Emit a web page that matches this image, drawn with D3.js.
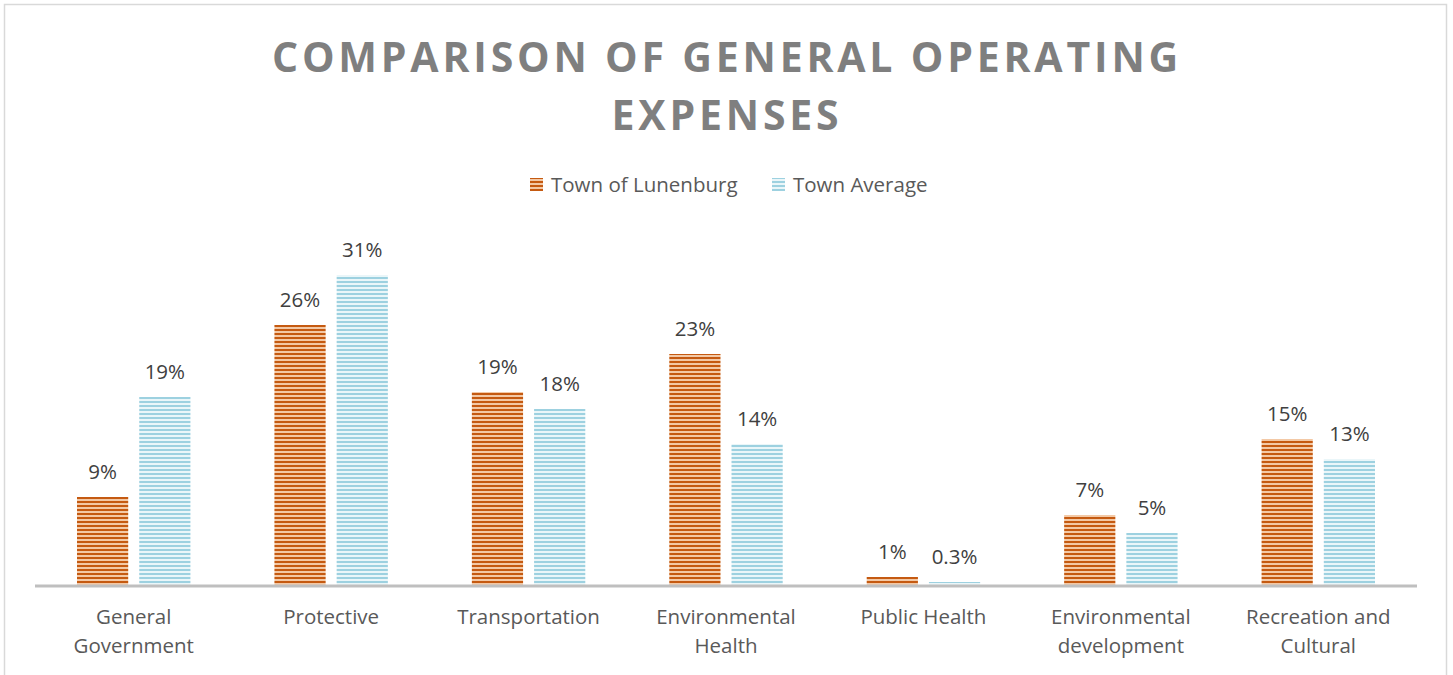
<!DOCTYPE html>
<html>
<head>
<meta charset="utf-8">
<script src="https://cdn.jsdelivr.net/npm/d3@7"></script>
<style>
  body { margin: 0; background: #fff; }
  svg { display: block; font-family: "Open Sans", sans-serif; }
</style>
</head>
<body>
<svg id="chart" width="1453" height="675"></svg>
<script>
// data
const categories = [
  ["General", "Government"],
  ["Protective"],
  ["Transportation"],
  ["Environmental", "Health"],
  ["Public Health"],
  ["Environmental", "development"],
  ["Recreation and", "Cultural"]
];
const seriesNames = ["Town of Lunenburg", "Town Average"];
const lunenburg = [8.8, 26.0, 19.3, 23.1, 0.8, 7.0, 14.6];
const townAverage = [18.8, 31.0, 17.6, 14.1, 0.3, 5.2, 12.6];
const titleLines = ["COMPARISON OF GENERAL OPERATING", "EXPENSES"];

const svg = d3.select("#chart");

// stripe patterns
const defs = svg.append("defs");
const stripes = [
  { id: "stripeOrange", dark: "#C55A11", light: "#F3C9A6" },
  { id: "stripeBlue", dark: "#9DD1E0", light: "#EAF6F9" }
];
stripes.forEach(s => {
  const p = defs.append("pattern")
    .attr("id", s.id)
    .attr("patternUnits", "userSpaceOnUse")
    .attr("width", 8).attr("height", 4);
  p.append("rect").attr("width", 8).attr("height", 4).attr("fill", s.light);
  p.append("rect").attr("y", 1).attr("width", 8).attr("height", 2).attr("fill", s.dark);
});
const fills = ["url(#stripeOrange)", "url(#stripeBlue)"];

// outer frame
svg.append("rect")
  .attr("x", 4.5).attr("y", 4.5)
  .attr("width", 1442).attr("height", 690)
  .attr("fill", "none")
  .attr("stroke", "#D9D9D9")
  .attr("stroke-width", 1.5);

// title
svg.append("text")
  .attr("text-anchor", "middle")
  .attr("font-size", 41)
  .attr("font-weight", 700)
  .attr("letter-spacing", 3.8)
  .attr("fill", "#7F7F7F")
  .selectAll("tspan")
  .data(titleLines).enter().append("tspan")
  .attr("x", 727)
  .attr("y", (d, i) => 72 + i * 58)
  .text(d => d);

// scales
const x0 = d3.scaleBand().domain(d3.range(categories.length)).range([35, 1417]);
const x1 = d3.scaleBand().domain(seriesNames)
  .range([42, x0.bandwidth() - 42]).paddingInner(0.177);
const y = d3.scaleLinear().domain([0, 35]).range([585, 235]);

const fmt = v => (v < 0.5 ? v.toFixed(1) : Math.round(v)) + "%";

// bars
const data = [lunenburg, townAverage];
const groups = svg.selectAll("g.cat")
  .data(categories).enter().append("g")
  .attr("class", "cat")
  .attr("transform", (d, i) => "translate(" + x0(i) + ",0)");

groups.each(function (c, i) {
  const g = d3.select(this);
  seriesNames.forEach((s, k) => {
    const v = data[k][i];
    g.append("rect")
      .attr("x", x1(s))
      .attr("y", y(v))
      .attr("width", x1.bandwidth())
      .attr("height", y(0) - y(v))
      .attr("fill", fills[k]);
    g.append("text")
      .attr("x", x1(s) + x1.bandwidth() / 2)
      .attr("y", y(v) - 18)
      .attr("text-anchor", "middle")
      .attr("font-size", 20.5)
      .attr("fill", "#404040")
      .text(fmt(v));
  });
});

// axis line
svg.append("line")
  .attr("x1", 35).attr("x2", 1417)
  .attr("y1", y(0) + 1).attr("y2", y(0) + 1)
  .attr("stroke", "#BFBFBF")
  .attr("stroke-width", 3);

// category labels
svg.selectAll("text.cat")
  .data(categories).enter().append("text")
  .attr("class", "cat")
  .attr("text-anchor", "middle")
  .attr("font-size", 20.5)
  .attr("fill", "#595959")
  .each(function (lines, i) {
    d3.select(this).selectAll("tspan")
      .data(lines).enter().append("tspan")
      .attr("x", x0(i) + x0.bandwidth() / 2)
      .attr("y", (d, j) => 624 + j * 29)
      .text(d => d);
  });

// legend
const legend = svg.append("g");
const legendX = [530, 772];
seriesNames.forEach((s, k) => {
  legend.append("rect")
    .attr("x", legendX[k]).attr("y", 178)
    .attr("width", 13).attr("height", 13)
    .attr("fill", fills[k]);
  legend.append("text")
    .attr("x", legendX[k] + 21).attr("y", 192)
    .attr("font-size", 20.5)
    .attr("fill", "#595959")
    .text(s);
});
</script>
</body>
</html>
